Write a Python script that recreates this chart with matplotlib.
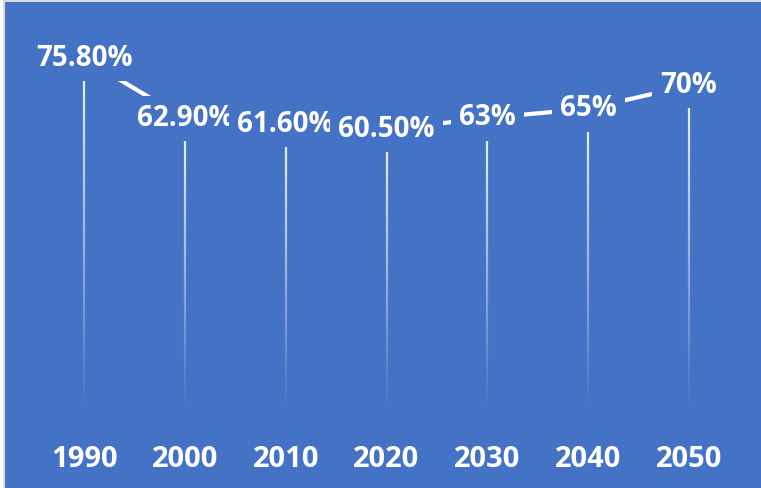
"""
Share of value over the decades, 1990-2050, drawn as a labelled line
with fading drop lines on a solid blue panel.
"""
import numpy as np
import matplotlib

matplotlib.use("Agg")
import matplotlib.pyplot as plt
from matplotlib.collections import LineCollection
from matplotlib.patches import Rectangle

years = ["1990", "2000", "2010", "2020", "2030", "2040", "2050"]
values = [75.8, 62.9, 61.6, 60.5, 63.0, 65.0, 70.0]
labels = ["75.80%", "62.90%", "61.60%", "60.50%", "63%", "65%", "70%"]

BLUE = "#4472C4"
FONT = "Open Sans"

fig = plt.figure(figsize=(7.61, 4.88), dpi=100, facecolor=BLUE)
ax = fig.add_axes([0.0442, 0.1598, 0.9275, 0.760])
ax.set_facecolor(BLUE)
ax.set_xlim(-0.5, len(years) - 0.5)
ax.set_ylim(0, 80)

x = np.arange(len(years))

# drop lines fading out towards the axis
segs, cols = [], []
steps = 80
for xi, v in zip(x, values):
    ys = np.linspace(0, v, steps + 1)
    for k in range(steps):
        segs.append([(xi, ys[k]), (xi, ys[k + 1])])
        a = min(1.0, (k + 0.5) / steps) * 0.95
        cols.append((1, 1, 1, a))
ax.add_collection(LineCollection(segs, colors=cols, linewidths=1.6, zorder=1))

ax.plot(x, values, color="white", lw=3, zorder=2, solid_capstyle="butt")

for xi, v, lab in zip(x, values, labels):
    ax.text(xi, v, lab, ha="center", va="center", color="white",
            fontsize=20, fontweight="bold", family=FONT, zorder=3,
            bbox=dict(boxstyle="square,pad=0.3", fc=BLUE, ec="none"))

ax.set_xticks(x)
ax.set_xticklabels(years, fontsize=21, fontweight="bold", color="white",
                   family=FONT)
ax.tick_params(axis="x", length=0, pad=25)
ax.set_yticks([])
for s in ax.spines.values():
    s.set_visible(False)

# thin frame edge at top and left
fig.patches.append(Rectangle((0, 1 - 2 / 488), 1, 2 / 488, transform=fig.transFigure,
                             fc="#d9d9d9", ec="none", zorder=5))
fig.patches.append(Rectangle((0, 0), 3 / 761, 1, transform=fig.transFigure,
                             fc="white", ec="none", zorder=5))
fig.patches.append(Rectangle((3 / 761, 0), 2 / 761, 1, transform=fig.transFigure,
                             fc="#d9d9d9", ec="none", zorder=5))

fig.savefig("out.png", dpi=100, facecolor=BLUE)
